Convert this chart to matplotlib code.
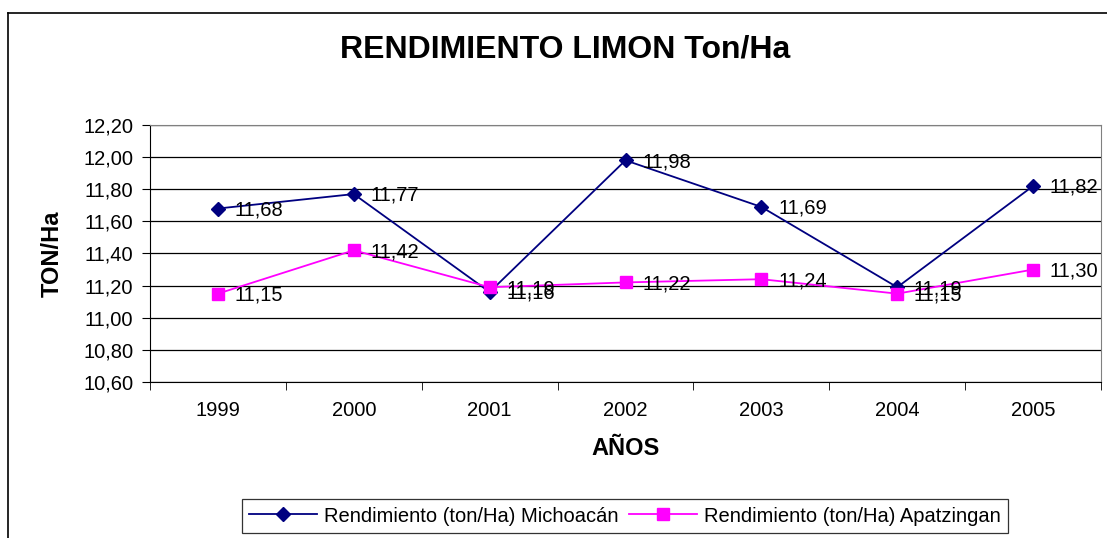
import numpy as np
import matplotlib.pyplot as plt
from matplotlib.lines import Line2D

years = ["1999", "2000", "2001", "2002", "2003", "2004", "2005"]
michoacan = [11.68, 11.77, 11.16, 11.98, 11.69, 11.19, 11.82]
apatzingan = [11.15, 11.42, 11.19, 11.22, 11.24, 11.15, 11.30]
yticks = [10.60, 10.80, 11.00, 11.20, 11.40, 11.60, 11.80, 12.00, 12.20]

plt.rcParams["font.family"] = ["Liberation Sans", "DejaVu Sans"]

fig = plt.figure(figsize=(11.07, 5.38), dpi=100)
ax = fig.add_axes([150 / 1107, 1 - 382 / 538, 951 / 1107, 257 / 538])

# outer chart frame (cut off at right and bottom)
fig.add_artist(Line2D([8 / 1107, 8 / 1107], [0, 1 - 13 / 538], color="black", lw=1.2))
fig.add_artist(Line2D([8 / 1107, 1], [1 - 13 / 538, 1 - 13 / 538], color="black", lw=1.2))

x = np.arange(len(years))
ax.plot(x, michoacan, color="#000080", marker="D", markersize=7.5, lw=1.3,
        label="Rendimiento (ton/Ha) Michoacán", zorder=3)
ax.plot(x, apatzingan, color="#FF00FF", marker="s", markersize=8.5, lw=1.3,
        label="Rendimiento (ton/Ha) Apatzingan", zorder=3)

# value labels (they overlap at 2001 and 2004, as in the original)
for series in (michoacan, apatzingan):
    for xi, v in zip(x, series):
        ax.annotate(f"{v:.2f}".replace(".", ","), (xi, v), xytext=(12, -1),
                    textcoords="offset points", ha="left", va="center",
                    fontsize=14.5, zorder=4)

ax.set_xlim(-0.5, len(years) - 0.5)
ax.set_ylim(10.60, 12.20)
ax.set_yticks(yticks)
ax.set_yticklabels([f"{t:.2f}".replace(".", ",") for t in yticks], fontsize=14.5)
ax.set_xticks(x)
ax.set_xticklabels(years, fontsize=14.5)
ax.set_xticks(np.arange(-0.5, len(years)), minor=True)
ax.tick_params(axis="x", which="major", length=0, pad=14)
ax.tick_params(axis="x", which="minor", length=6, direction="out")
ax.tick_params(axis="y", length=6, direction="out", pad=6)

ax.grid(axis="y", color="black", lw=0.9)
ax.set_axisbelow(True)
ax.spines["top"].set_color("#808080")
ax.spines["right"].set_color("#808080")
ax.spines["left"].set_color("black")
ax.spines["bottom"].set_color("black")

ax.set_ylabel("TON/Ha", fontsize=17, fontweight="bold", labelpad=14)
ax.set_xlabel("AÑOS", fontsize=17, fontweight="bold", labelpad=12)
fig.text(565 / 1107, 1 - 50 / 538, "RENDIMIENTO LIMON Ton/Ha", ha="center", va="center",
         fontsize=23, fontweight="bold")

leg = fig.legend(loc="center", bbox_to_anchor=(625 / 1107, 1 - 516 / 538), ncol=2,
                 fontsize=14.5, frameon=True, fancybox=False, edgecolor="black",
                 handlelength=3.4, columnspacing=0.5, handletextpad=0.35,
                 borderpad=0.35, borderaxespad=0)
leg.get_frame().set_linewidth(0.9)

plt.savefig("out.png", dpi=100)
